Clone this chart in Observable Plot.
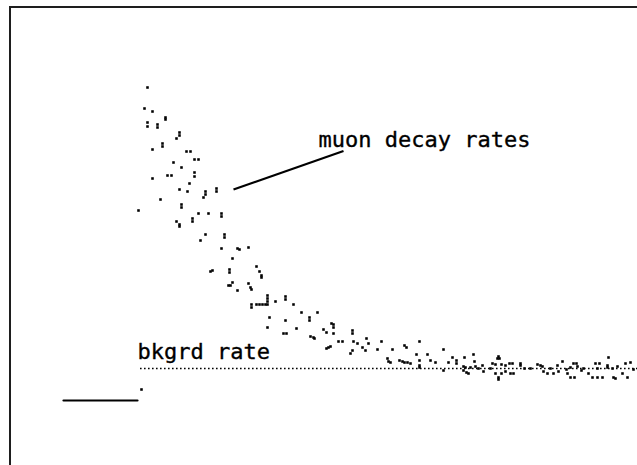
<!DOCTYPE html>
<html>
<head>
<meta charset="utf-8">
<script src="https://cdn.jsdelivr.net/npm/d3@7"></script>
<script src="https://cdn.jsdelivr.net/npm/@observablehq/plot@0.6"></script>
<style>
  html, body { margin: 0; padding: 0; background: #fff; }
  #wrap { position: relative; width: 637px; height: 465px; overflow: hidden; }
  #frame { position: absolute; left: 9px; top: 6px; width: 700px; height: 600px;
           border-left: 2px solid #1e1e1e; border-top: 2px solid #1e1e1e; pointer-events: none; }
  svg text { font-family: "DejaVu Sans Mono", monospace; }
</style>
</head>
<body>
<div id="wrap"><div id="frame"></div></div>
<script>
// muon decay counts: [time channel, counts]
const decay = [
  [10,313],[7,292],[15,289],[28,283],[28,281],[10,278],[10,274],[20,276],[20,273],
  [42,268],[42,265],[39,262],[25,257],[25,254],[15,251],[49,249],[53,249],[57,241],[61,241],
  [36,238],[44,233],[30,225],[34,225],[57,228],[57,224],[15,222],[52,217],[42,211],[50,209],
  [68,209],[68,206],[66,203],[79,212],[79,209],[23,201],[44,196],[44,193],[1,190],
  [61,187],[71,187],[84,187],[84,184],[55,182],[55,179],[39,179],[42,176],[42,174],
  [68,166],[63,160],[87,166],[87,163],[84,152],[100,152],[102,151],[111,153],[95,142],
  [73,129],[75,130],[92,131],[92,128],[119,134],[122,129],[124,125],[124,123],
  [91,115],[93,115],[95,118],[100,110],[111,117],[113,113],[114,111],
  [119,96],[122,96],[125,96],[128,96],[130,96],[130,99],[130,102],[130,105],
  [114,96],[114,93],[138,99],[148,104],[148,101],[156,96],[164,88],[180,88],[172,83],[172,80],
  [132,83],[148,80],[130,73],[159,72],[146,67],[149,67],[173,64],[176,63],[177,62],
  [186,71],[189,68],[194,77],[196,76],[196,73],[196,67],[201,59],[205,59],
  [189,52],[191,53],[193,54],[215,70],[215,67],[216,59],[220,57],[225,53],[228,50],
  [229,62],[231,57],[213,47],[215,50],[240,51],[244,59],[255,51],[267,55],[269,53],[282,59],
  [250,42],[251,39],[253,38],[262,40],[265,39],[267,38],[270,38],[273,37],[279,46],
  [282,40],[282,35],[282,33],[290,46],[293,40],[298,38],[306,51],[306,30],[311,38],[315,43],
  [319,40],[319,37],[327,43],[326,30],[329,28],[331,27],[336,46],[326,34],[328,33],
  [337,39],[338,34],[333,33],[341,32],[345,35],[346,29],[353,32],[355,37],
  [360,42],[362,42],[361,44],[358,36],[364,36],[361,23],[361,21],[358,27],[364,27],
  [368,35],[368,29],[372,37],[375,37],[373,27],[376,27],[383,37],[383,35],[387,32],[393,32],
  [400,36],[403,35],[405,34],[406,29],[410,27],[413,32],[416,27],[420,35],[421,29],[425,39],
  [429,31],[430,27],[433,33],[436,37],[439,37],[433,23],[437,23],[440,34],[444,30],[446,32],
  [451,27],[455,23],[460,23],[465,23],[458,37],[462,37],[460,32],[471,43],[470,35],[470,33],
  [475,32],[476,23],[478,22],[480,34],[485,27],[490,23],[488,37],[493,38],[496,31],
  [4,11]
];
const bkgrdRate = [32];          // background counts level
const bkgrdSpan = [3, 500];      // channels covered by the background line
const preTrigger = [[-74, 0], [0, 0]]; // level before the start
const pointer = [[96, 211, 206, 249.5]]; // leader line: from data cloud to label
const labels = [
  {text: "muon decay rates", ch: 181, cnt: 254},
  {text: "bkgrd rate", ch: 0, cnt: 42}
];

const chart = Plot.plot({
  width: 637, height: 465,
  margin: 0,
  x: {domain: [-137, 500], axis: null},
  y: {domain: [-65, 400], axis: null},
  marks: [
    Plot.ruleY(bkgrdRate, {x1: bkgrdSpan[0], x2: bkgrdSpan[1], stroke: "#000", strokeWidth: 1.7, strokeDasharray: "1.6,2.4"}),
    Plot.line(preTrigger, {x: d => d[0], y: d => d[1], stroke: "#000", strokeWidth: 2.2}),
    Plot.link(pointer, {x1: d => d[0], y1: d => d[1], x2: d => d[2], y2: d => d[3], stroke: "#000", strokeWidth: 2.2}),
    Plot.dot(decay, {x: d => d[0], y: d => d[1], symbol: "square", r: 1.45, fill: "#000", stroke: null}),
    Plot.text(labels, {x: "ch", y: "cnt", text: "text", textAnchor: "start", lineAnchor: "bottom", fontSize: 22, fill: "#000", stroke: "#000", strokeWidth: 0.35})
  ]
});
document.getElementById("wrap").prepend(chart);
</script>
</body>
</html>
